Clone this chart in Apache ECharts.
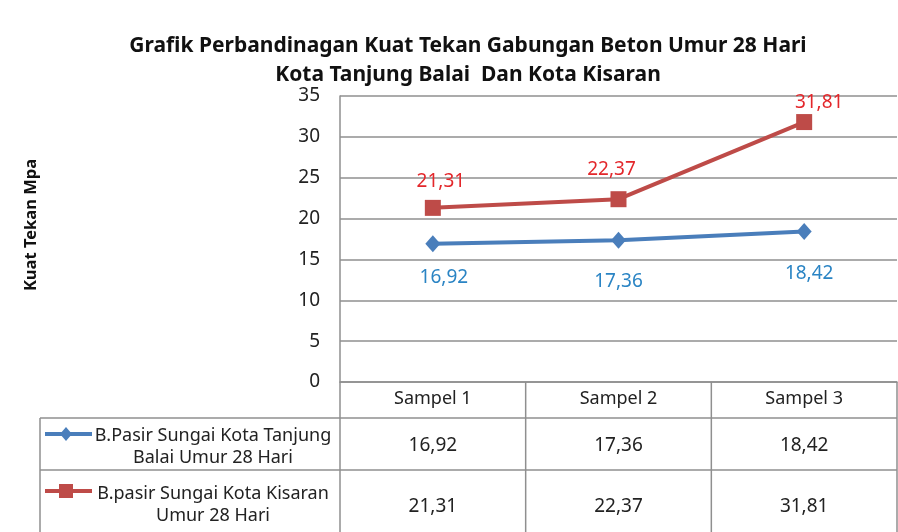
<!DOCTYPE html>
<html><head><meta charset="utf-8">
<script src="https://cdn.jsdelivr.net/npm/echarts@6/dist/echarts.min.js"></script>
<style>html,body{margin:0;padding:0;background:#fff}#c{width:898px;height:532px}</style>
</head><body><div id="c"></div>
<script>
const titleText = 'Grafik Perbandinagan Kuat Tekan Gabungan Beton Umur 28 Hari\nKota Tanjung Balai  Dan Kota Kisaran';
const yAxisTitle = 'Kuat Tekan Mpa';
const categories = ['Sampel 1', 'Sampel 2', 'Sampel 3'];
const seriesNames = ['B.Pasir Sungai Kota Tanjung\nBalai Umur 28 Hari', 'B.pasir Sungai Kota Kisaran\nUmur 28 Hari'];
const tanjungBalai = [16.92, 17.36, 18.42];
const kisaran = [21.31, 22.37, 31.81];
const yMin = 0, yMax = 35, yStep = 5;

const FONT = 'Noto Sans';
const blue = '#4a7ebb', red = '#be4b48';
const blueLabel = '#2a84c4', redLabel = '#e3272b';
const gridColor = '#8f8f8f';
const fmt = v => v.toFixed(2).replace('.', ',');

// label nudges (layout only)
const blueLabelNudge = [[11, 2], [0, 9], [5, 10]];
const redLabelNudge = [[8, 0], [-7, -3], [15, 7]];

const chart = echarts.init(document.getElementById('c'));
const gridLeft = 340, gridRight = 1, gridTop = 96, gridBottom = 150;

const withNudge = (vals, nudge) => vals.map((v, i) => ({ value: v, label: { offset: nudge[i] } }));

chart.setOption({
  backgroundColor: '#fff',
  animation: false,
  title: {
    text: titleText, left: 463, top: 27, textAlign: 'center',
    textStyle: { fontFamily: FONT, fontWeight: 'bold', fontSize: 21, lineHeight: 29, color: '#111' }
  },
  grid: { left: gridLeft, right: gridRight, top: gridTop, bottom: gridBottom, containLabel: false },
  xAxis: {
    type: 'category', data: categories, boundaryGap: true,
    axisLine: { show: true, lineStyle: { color: gridColor, width: 1.5 } },
    axisTick: { show: false },
    axisLabel: { margin: 8, fontFamily: FONT, fontSize: 18, color: '#222' },
    splitLine: { show: false }
  },
  yAxis: {
    type: 'value', min: yMin, max: yMax, interval: yStep,
    axisLine: { show: true, lineStyle: { color: gridColor, width: 1.5 } },
    axisTick: { show: false },
    axisLabel: { margin: 20, fontFamily: FONT, fontSize: 19, color: '#222' },
    splitLine: { show: true, lineStyle: { color: gridColor, width: 1.5 } }
  },
  series: [
    {
      name: seriesNames[0], type: 'line', data: withNudge(tanjungBalai, blueLabelNudge),
      symbol: 'diamond', symbolSize: [15, 17], color: blue,
      lineStyle: { color: blue, width: 4 }, itemStyle: { color: blue },
      label: { show: true, position: 'bottom', distance: 14, formatter: p => fmt(p.value),
        fontFamily: FONT, fontSize: 19, color: blueLabel }
    },
    {
      name: seriesNames[1], type: 'line', data: withNudge(kisaran, redLabelNudge),
      symbol: 'rect', symbolSize: 16, color: red,
      lineStyle: { color: red, width: 4 }, itemStyle: { color: red },
      label: { show: true, position: 'top', distance: 9, formatter: p => fmt(p.value),
        fontFamily: FONT, fontSize: 19, color: redLabel }
    }
  ]
});

// Data table below the chart + y axis title
const tableLeft = 40, tableRight = 897;
const yHeaderTop = 532 - gridBottom, yRow1 = 418, yRow2 = 470, yBottom = 532;
const colCenters = categories.map((c, i) => chart.convertToPixel({ xAxisIndex: 0 }, i));
const colW = colCenters.length > 1 ? colCenters[1] - colCenters[0] : 185;
const g = [];
g.push({ type: 'text', x: 31, y: 225, rotation: Math.PI / 2,
  style: { text: yAxisTitle, fontFamily: FONT, fontWeight: 'bold', fontSize: 16.5, fill: '#111', align: 'center', verticalAlign: 'middle' } });
const line = (x1, y1, x2, y2) => g.push({ type: 'line', shape: { x1, y1, x2, y2 }, style: { stroke: gridColor, lineWidth: 1.5 }, silent: true });
line(tableLeft, yRow1, tableRight, yRow1);
line(tableLeft, yRow2, tableRight, yRow2);
line(tableLeft, yRow1, tableLeft, yBottom);
line(gridLeft, yHeaderTop, gridLeft, yBottom);
colCenters.forEach(cx => line(cx + colW / 2, yHeaderTop, cx + colW / 2, yBottom));

const rows = [
  { vals: tanjungBalai, name: seriesNames[0], color: blue, sym: 'diamond', cy: 446, markY: 434, textTop: 425 },
  { vals: kisaran, name: seriesNames[1], color: red, sym: 'rect', cy: 507, markY: 491, textTop: 483 }
];
rows.forEach(r => {
  r.vals.forEach((v, i) => g.push({ type: 'text', x: colCenters[i], y: r.cy,
    style: { text: fmt(v), fontFamily: FONT, fontSize: 19, fill: '#222', align: 'center', verticalAlign: 'middle' } }));
  const ly = r.markY;
  g.push({ type: 'line', shape: { x1: 45, y1: ly, x2: 92, y2: ly }, style: { stroke: r.color, lineWidth: 4 } });
  if (r.sym === 'diamond') {
    g.push({ type: 'polygon', shape: { points: [[66, ly - 7], [72, ly], [66, ly + 7], [60, ly]] }, style: { fill: r.color } });
  } else {
    g.push({ type: 'rect', shape: { x: 59, y: ly - 7, width: 14, height: 14 }, style: { fill: r.color } });
  }
  g.push({ type: 'text', x: 213, y: r.textTop,
    style: { text: r.name, fontFamily: FONT, fontSize: 18, lineHeight: 22, fill: '#222', align: 'center', verticalAlign: 'top' } });
});
chart.setOption({ graphic: g });
</script>
</body></html>
